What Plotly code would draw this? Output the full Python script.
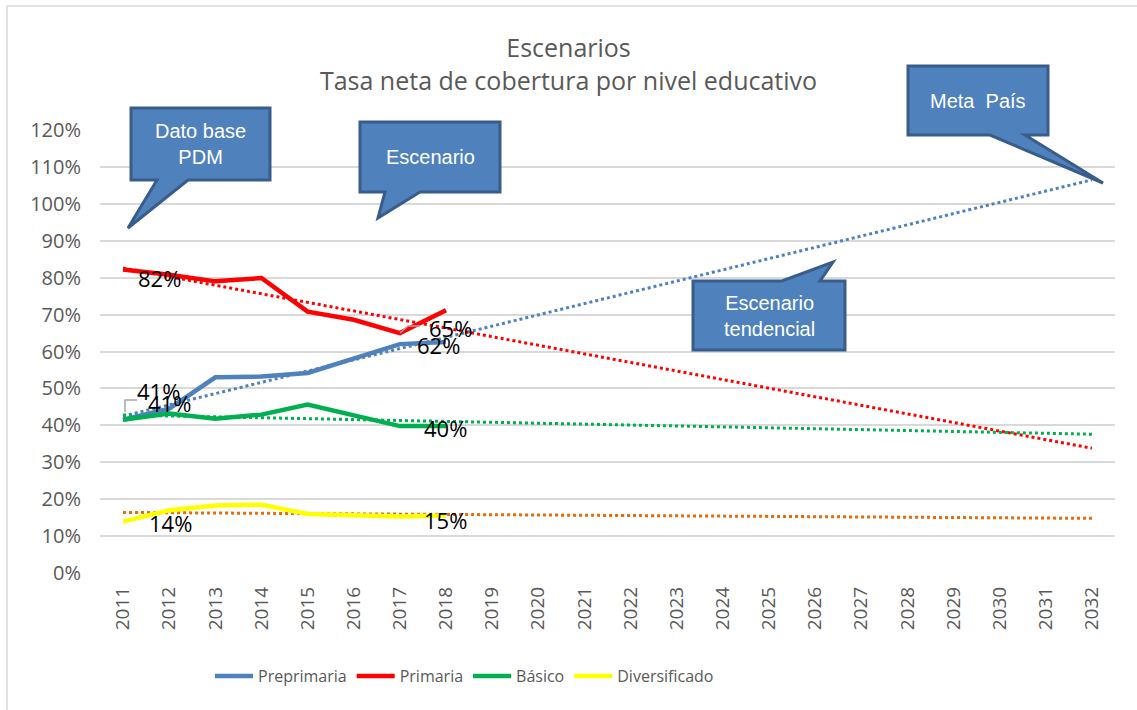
import plotly.graph_objects as go

years = list(range(2011, 2033))
obs_years = list(range(2011, 2019))

preprimaria = [0.415, 0.445, 0.530, 0.532, 0.542, 0.582, 0.620, 0.626]
primaria = [0.822, 0.808, 0.790, 0.799, 0.708, 0.686, 0.650, 0.712]
basico = [0.415, 0.432, 0.418, 0.429, 0.456, 0.428, 0.398, 0.398]
diversificado = [0.139, 0.170, 0.183, 0.185, 0.160, 0.156, 0.153, 0.156]

# trendline end points (2011, 2032)
trend_years = [2011, 2032]
trend_pre = [0.425, 1.065]
trend_pri = [0.826, 0.338]
trend_bas = [0.428, 0.376]
trend_div = [0.164, 0.148]

series_names = ["Preprimaria", "Primaria", "Básico", "Diversificado"]
series_colors = ["#4F81BD", "#FF0000", "#00B050", "#FFFF00"]
trend_colors = ["#4F81BD", "#FF0000", "#00B050", "#E46C0A"]

yticks = [i / 10 for i in range(0, 13)]
ytick_text = [f"{i * 10}%" for i in range(0, 13)]

# data labels: (text, x, y)
labels = [
    ("82%", 2011.8, 0.800),
    ("41%", 2011.76, 0.493),
    ("41%", 2012.0, 0.460),
    ("65%", 2018.09, 0.664),
    ("62%", 2017.83, 0.617),
    ("40%", 2017.98, 0.393),
    ("14%", 2012.02, 0.135),
    ("15%", 2017.98, 0.1435),
]

L, R, T, B = 100, 1115, 130, 573
W, H = 1137, 710


def px(x):
    return (x - L) / (R - L)


def py(y):
    return (B - y) / (B - T)


def path(points, close=True):
    s = "M " + " L ".join(f"{px(a):.5f},{py(b):.5f}" for a, b in points)
    return s + (" Z" if close else "")


fig = go.Figure()

all_vals = [preprimaria, primaria, basico, diversificado]
trends = [trend_pre, trend_pri, trend_bas, trend_div]

for name, vals, col, tr, tcol in zip(series_names, all_vals, series_colors, trends, trend_colors):
    fig.add_trace(go.Scatter(x=trend_years, y=tr, mode="lines",
                             line=dict(color=tcol, width=3, dash="dot"),
                             showlegend=False, hoverinfo="skip"))

for name, vals, col in zip(series_names, all_vals, series_colors):
    fig.add_trace(go.Scatter(x=obs_years, y=vals, mode="lines", name=name,
                             line=dict(color=col, width=4.5)))

for txt, x, y in labels:
    fig.add_annotation(x=x, y=y, xref="x", yref="y", text=txt, showarrow=False,
                       xanchor="center", yanchor="middle",
                       font=dict(family="Open Sans", size=22, color="#000000"))

shapes = []
# leader lines
shapes.append(dict(type="path", xref="paper", yref="paper",
                   path=path([(125, 412), (125, 400), (137, 400)], close=False),
                   line=dict(color="#A6A6A6", width=1.5)))
shapes.append(dict(type="path", xref="paper", yref="paper",
                   path=path([(400, 333), (408, 326), (420, 326)], close=False),
                   line=dict(color="#A6A6A6", width=1.5)))

callouts = [
    # box (x0, y0, x1, y1), tail base (xa, xb), tip, side, text, text centre y
    ((131, 108, 270, 180), (157, 188), (128, 228), "bottom", "Dato base<br>PDM", 144),
    ((360, 122, 500, 192), (385, 420), (378, 218), "bottom", "Escenario", 157),
    ((908, 66, 1048, 135), (990, 1025), (1103, 183), "bottom", "Meta  País", 101),
    ((693, 281, 845, 350), (782, 820), (833, 262), "top", "Escenario<br>tendencial", 316),
]
for (x0, y0, x1, y1), (xa, xb), (tx, ty), side, txt, cy in callouts:
    if side == "bottom":
        pts = [(x0, y0), (x1, y0), (x1, y1), (xb, y1), (tx, ty), (xa, y1), (x0, y1)]
    else:
        pts = [(x0, y0), (xa, y0), (tx, ty), (xb, y0), (x1, y0), (x1, y1), (x0, y1)]
    shapes.append(dict(type="path", xref="paper", yref="paper", path=path(pts),
                       fillcolor="#4F81BD", line=dict(color="#385D8A", width=3)))
    fig.add_annotation(x=px((x0 + x1) / 2), y=py(cy), xref="paper", yref="paper",
                       text=txt, showarrow=False, xanchor="center", yanchor="middle",
                       font=dict(family="Liberation Sans", size=20, color="#FFFFFF"))

# chart border
shapes.append(dict(type="rect", xref="paper", yref="paper",
                   x0=px(7), y0=py(716), x1=px(1143), y1=py(6),
                   line=dict(color="#D9D9D9", width=1.5), fillcolor="rgba(0,0,0,0)", layer="below"))

fig.update_layout(
    width=W, height=H,
    margin=dict(l=L, r=W - R, t=T, b=H - B),
    paper_bgcolor="white", plot_bgcolor="white",
    title=dict(text="Escenarios<br>Tasa neta de cobertura por nivel educativo",
               x=0.5, xanchor="center", y=1 - 57 / H, yanchor="middle",
               font=dict(family="Open Sans", size=25, color="#595959")),
    shapes=shapes,
    showlegend=True,
    legend=dict(orientation="h", x=px(210), xanchor="left", y=py(676), yanchor="middle",
                font=dict(family="Open Sans", size=16, color="#595959"),
                itemwidth=38, traceorder="normal"),
    xaxis=dict(range=[2010.5, 2032.5], tickmode="array", tickvals=years,
               ticktext=[str(y) for y in years], tickangle=-90, showgrid=False,
               zeroline=False, showline=False, ticks="", ticklabelstandoff=9,
               tickfont=dict(family="Open Sans", size=19, color="#595959")),
    yaxis=dict(range=[0, 1.2], tickmode="array", tickvals=yticks, ticktext=ytick_text,
               showgrid=True, gridcolor="#D9D9D9", gridwidth=1.5, zeroline=False,
               showline=False, ticks="", ticklabelstandoff=18,
               tickfont=dict(family="Open Sans", size=20, color="#595959")),
)

fig.write_html("out.html", post_script="document.body.style.margin='0';",
               config={"displayModeBar": False})
